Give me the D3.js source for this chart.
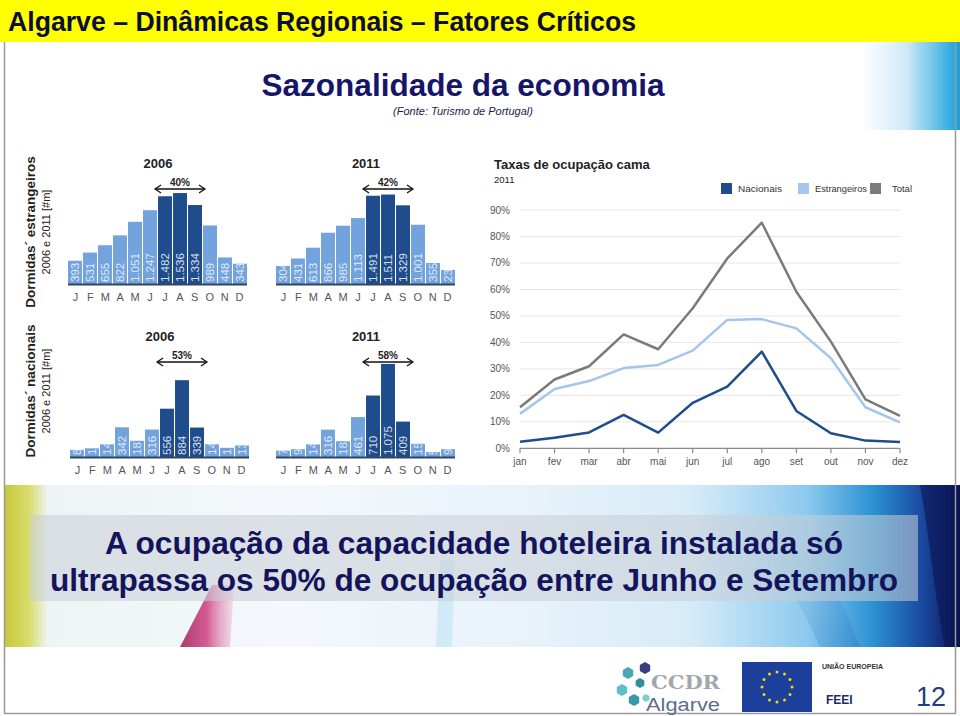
<!DOCTYPE html>
<html><head><meta charset="utf-8">
<script src="https://cdn.jsdelivr.net/npm/d3@7"></script>
<style>html,body{margin:0;padding:0;background:#fff}svg{display:block}</style>
</head><body>
<script>
// ---------------- DATA ----------------
const barMonths = ["J","F","M","A","M","J","J","A","S","O","N","D"];
const estr2006 = [393,531,655,822,1051,1247,1482,1536,1334,989,448,343];
const estr2011 = [304,431,613,866,985,1113,1491,1511,1329,1001,355,236];
const nac2006 = [82,100,146,342,187,316,556,884,339,147,106,133];
const nac2011 = [73,91,146,316,182,461,710,1075,409,153,58,90];
const peakShare = {estr2006:"40%", estr2011:"42%", nac2006:"53%", nac2011:"58%"};
const lineMonths = ["jan","fev","mar","abr","mai","jun","jul","ago","set","out","nov","dez"];
const taxaNacionais = [2.5,4,6,12.6,5.9,17.2,23.3,36.5,14.1,5.7,2.9,2.4];
const taxaEstrangeiros = [13,22.4,25.4,30.3,31.5,36.9,48.5,48.8,45.3,34,15.5,9.8];
const taxaTotal = [15.5,26,31,43,37.4,52.9,71.7,85.2,59.1,40.3,18.5,12.2];
const pctTicks = [0,10,20,30,40,50,60,70,80,90];
const legendNames = ["Nacionais","Estrangeiros","Total"];

// ---------------- SVG ----------------
const W=960,H=716;
const svg=d3.select("body").append("svg").attr("width",W).attr("height",H);
const defs=svg.append("defs");
const FONT="'Liberation Sans', Arial, sans-serif";

// gradients
const gTR=defs.append("linearGradient").attr("id","gTR").attr("x1",0).attr("x2",1).attr("y1",0).attr("y2",0);
gTR.append("stop").attr("offset","0").attr("stop-color","#ffffff");
gTR.append("stop").attr("offset","0.45").attr("stop-color","#cfe9f7");
gTR.append("stop").attr("offset","1").attr("stop-color","#14a0dc");

const gBand=defs.append("linearGradient").attr("id","gBand").attr("x1",0).attr("x2",1).attr("y1",0).attr("y2",0);
[["0","#c8c83a"],["0.025","#d8dc6a"],["0.045","#eef4f6"],["0.3","#f4f8fc"],["0.55","#e8f2fa"],["0.72","#d6ebf8"],["0.84","#8ccaee"],["0.91","#2a90d2"],["0.96","#1a4aa0"],["1","#0c1454"]]
  .forEach(s=>gBand.append("stop").attr("offset",s[0]).attr("stop-color",s[1]));
const gPink=defs.append("linearGradient").attr("id","gPink").attr("x1",0).attr("x2",1).attr("y1",0).attr("y2",0);
gPink.append("stop").attr("offset","0").attr("stop-color","#a02860").attr("stop-opacity",0.9);
gPink.append("stop").attr("offset","0.5").attr("stop-color","#d04080").attr("stop-opacity",0.85);
gPink.append("stop").attr("offset","1").attr("stop-color","#e8a0c0").attr("stop-opacity",0.3);
const gSwoosh=defs.append("linearGradient").attr("id","gSwoosh").attr("x1",0).attr("x2",1).attr("y1",0).attr("y2",1);
gSwoosh.append("stop").attr("offset","0").attr("stop-color","#ffffff").attr("stop-opacity",0.0);
gSwoosh.append("stop").attr("offset","1").attr("stop-color","#1c6fc0").attr("stop-opacity",0.7);

// header
svg.append("rect").attr("x",0).attr("y",0).attr("width",W).attr("height",42).attr("fill","#ffff00");
svg.append("text").attr("x",8).attr("y",31).attr("font-family",FONT).attr("font-weight","bold")
  .attr("font-size",27).attr("fill","#0d0d3a").attr("textLength",628).attr("lengthAdjust","spacingAndGlyphs")
  .text("Algarve – Dinâmicas Regionais – Fatores Críticos");

// top right gradient
svg.append("rect").attr("x",862).attr("y",42).attr("width",98).attr("height",88).attr("fill","url(#gTR)");

// title
svg.append("text").attr("x",463).attr("y",96).attr("text-anchor","middle").attr("font-family",FONT)
  .attr("font-weight","bold").attr("font-size",32).attr("fill","#15156a")
  .attr("textLength",403).attr("lengthAdjust","spacingAndGlyphs").text("Sazonalidade da economia");
svg.append("text").attr("x",463).attr("y",115).attr("text-anchor","middle").attr("font-family",FONT)
  .attr("font-style","italic").attr("font-size",11).attr("fill","#1a1a4a").text("(Fonte: Turismo de Portugal)");

// decorative band
svg.append("rect").attr("x",5).attr("y",485).attr("width",955).attr("height",162).attr("fill","url(#gBand)");
svg.append("path").attr("d","M920,485 C930,540 935,600 945,647 L960,647 L960,485 Z").attr("fill","#0c1454").attr("opacity",0.6);
svg.append("path").attr("d","M700,485 C760,530 800,600 820,647 L860,647 C840,590 800,530 760,485 Z").attr("fill","url(#gSwoosh)").attr("opacity",0.45);
svg.append("path").attr("d","M212,585 L234,585 L230,647 L180,647 Z").attr("fill","url(#gPink)");
svg.append("path").attr("d","M440,560 L455,560 L452,647 L436,647 Z").attr("fill","#bfe3f5").attr("opacity",0.6);

// text box
svg.append("rect").attr("x",30).attr("y",515).attr("width",888).attr("height",86).attr("fill","#c8ced6").attr("opacity",0.55);
svg.append("text").attr("x",474).attr("y",554).attr("text-anchor","middle").attr("font-family",FONT)
  .attr("font-weight","bold").attr("font-size",31).attr("fill","#14145c")
  .attr("textLength",738).attr("lengthAdjust","spacingAndGlyphs").text("A ocupação da capacidade hoteleira instalada só");
svg.append("text").attr("x",474).attr("y",591).attr("text-anchor","middle").attr("font-family",FONT)
  .attr("font-weight","bold").attr("font-size",31).attr("fill","#14145c")
  .attr("textLength",848).attr("lengthAdjust","spacingAndGlyphs").text("ultrapassa os 50% de ocupação entre Junho e Setembro");

// chart panel background
svg.append("rect").attr("x",8).attr("y",130).attr("width",934).attr("height",355).attr("fill","#ffffff");

// slide border
svg.append("path").attr("d","M4.5,42 L4.5,713.5 L955.5,713.5 L955.5,42").attr("fill","none").attr("stroke","#9a9a9a").attr("stroke-width",1.5);

// ---------------- BAR CHARTS ----------------
const LIGHT="#72a3dd", DARK="#1e4c8c";
let clipId=0;
function barChart(values, x0, x1, base, pxPerUnit, year, share, titleY, arrowY){
  const g=svg.append("g");
  const x=d3.scaleBand().domain(d3.range(12)).range([x0,x1]).paddingInner(0.07);
  const y=d3.scaleLinear().domain([0,1000]).range([base, base-1000*pxPerUnit]);
  values.forEach((v,i)=>{
    const bx=x(i), bw=x.bandwidth(), by=y(v), bh=base-by;
    const id="clip"+(clipId++);
    defs.append("clipPath").attr("id",id).append("rect").attr("x",bx).attr("y",by).attr("width",bw).attr("height",bh);
    g.append("rect").attr("x",bx).attr("y",by).attr("width",bw).attr("height",bh)
      .attr("fill",(i>=6&&i<=8)?DARK:LIGHT);
    const lbl=d3.format(",")(v).replace(/,/g,".");
    g.append("g").attr("clip-path",`url(#${id})`).append("text")
      .attr("transform",`translate(${bx+bw/2},${base-2}) rotate(-90)`)
      .attr("dy","0.35em").attr("font-family",FONT).attr("font-size",11.5)
      .attr("fill","#eef3fb").attr("fill-opacity",0.9).text(lbl);
  });
  g.append("line").attr("x1",x0).attr("x2",x1).attr("y1",base+0.5).attr("y2",base+0.5).attr("stroke","#33445e").attr("stroke-width",2);
  const xm=d3.scaleBand().domain(d3.range(12)).range([x0,x1]);
  barMonths.forEach((m,i)=>{
    g.append("text").attr("x",xm(i)+xm.bandwidth()/2).attr("y",base+17).attr("text-anchor","middle")
      .attr("font-family",FONT).attr("font-size",11).attr("fill","#555").text(m);
  });
  const ax0=x(6)-3, ax1=x(8)+x.bandwidth()+3, cx=(ax0+ax1)/2;
  g.append("text").attr("x",cx-22).attr("y",titleY).attr("text-anchor","middle").attr("font-family",FONT)
    .attr("font-weight","bold").attr("font-size",13).attr("fill","#222").text(year);
  g.append("line").attr("x1",ax0+1).attr("x2",ax1-1).attr("y1",arrowY).attr("y2",arrowY).attr("stroke","#111").attr("stroke-width",1.3);
  g.append("path").attr("d",`M${ax0+6},${arrowY-4} L${ax0},${arrowY} L${ax0+6},${arrowY+4}`).attr("fill","none").attr("stroke","#111").attr("stroke-width",1.3);
  g.append("path").attr("d",`M${ax1-6},${arrowY-4} L${ax1},${arrowY} L${ax1-6},${arrowY+4}`).attr("fill","none").attr("stroke","#111").attr("stroke-width",1.3);
  g.append("text").attr("x",cx).attr("y",arrowY-3).attr("text-anchor","middle").attr("font-family",FONT)
    .attr("font-weight","bold").attr("font-size",10).attr("fill","#222").text(share);
}
barChart(estr2006, 68, 247, 284, 0.0592, "2006", peakShare.estr2006, 168, 189);
barChart(estr2011, 276, 455, 284, 0.0592, "2011", peakShare.estr2011, 168, 189);
barChart(nac2006, 70, 249, 457, 0.0869, "2006", peakShare.nac2006, 341, 362);
barChart(nac2011, 276, 455, 457, 0.0866, "2011", peakShare.nac2011, 341, 362);

function yLabel(cy, main){
  svg.append("text").attr("transform",`translate(35,${cy}) rotate(-90)`).attr("text-anchor","middle")
    .attr("font-family",FONT).attr("font-weight","bold").attr("font-size",13.5).attr("fill","#222").text(main);
  svg.append("text").attr("transform",`translate(50,${cy}) rotate(-90)`).attr("text-anchor","middle")
    .attr("font-family",FONT).attr("font-size",11).attr("fill","#222").text("2006 e 2011 [#m]");
}
yLabel(232,"Dormidas´ estrangeiros");
yLabel(391,"Dormidas´ nacionais");

// ---------------- LINE CHART ----------------
const lc=svg.append("g");
const lx=d3.scalePoint().domain(lineMonths).range([520,900]);
const ly=d3.scaleLinear().domain([0,90]).range([448.3,210]);
lc.append("text").attr("x",494).attr("y",169).attr("font-family",FONT).attr("font-weight","bold").attr("font-size",13).attr("fill","#222").text("Taxas de ocupação cama");
lc.append("text").attr("x",494).attr("y",183).attr("font-family",FONT).attr("font-size",9.5).attr("fill","#222").text("2011");
pctTicks.forEach(t=>{
  if(t>0) lc.append("line").attr("x1",520).attr("x2",900).attr("y1",ly(t)).attr("y2",ly(t)).attr("stroke","#e6e6e6").attr("stroke-width",1);
  lc.append("text").attr("x",510).attr("y",ly(t)).attr("dy","0.35em").attr("text-anchor","end")
    .attr("font-family",FONT).attr("font-size",10).attr("fill","#555").text(t+"%");
});
lc.append("line").attr("x1",520).attr("x2",900).attr("y1",ly(0)).attr("y2",ly(0)).attr("stroke","#8a8a8a").attr("stroke-width",1.2);
lineMonths.forEach(m=>{
  lc.append("line").attr("x1",lx(m)).attr("x2",lx(m)).attr("y1",ly(0)).attr("y2",ly(0)+5).attr("stroke","#8a8a8a").attr("stroke-width",1.2);
  lc.append("text").attr("x",lx(m)).attr("y",465).attr("text-anchor","middle").attr("font-family",FONT)
    .attr("font-size",10).attr("fill","#555").text(m);
});
const seriesCol=["#1e4c8c","#a6c5ea","#7a7a7a"];
const seriesData=[taxaNacionais,taxaEstrangeiros,taxaTotal];
const line=d3.line().x((d,i)=>lx(lineMonths[i])).y(d=>ly(d));
[2,1,0].forEach(k=>{
  lc.append("path").attr("d",line(seriesData[k])).attr("fill","none").attr("stroke",seriesCol[k]).attr("stroke-width",2.5).attr("stroke-linejoin","round");
});
const legX=[721,798,870];
const legTxtW=[44,52,20];
legendNames.forEach((n,k)=>{
  lc.append("rect").attr("x",legX[k]).attr("y",183).attr("width",11).attr("height",11).attr("fill",seriesCol[k]);
  lc.append("text").attr("x",legX[k]+(k==2?22:17)).attr("y",188.5).attr("dy","0.35em").attr("font-family",FONT)
    .attr("font-size",9.5).attr("fill","#333").attr("textLength",legTxtW[k]).attr("lengthAdjust","spacingAndGlyphs").text(n);
});

// ---------------- FOOTER ----------------
const hex=(cx,cy,r)=>d3.range(6).map(i=>{const a=Math.PI/3*i+Math.PI/6;return [cx+r*Math.cos(a),cy+r*Math.sin(a)];});
[[645,668,6,"#3c3c80"],[628,673,6,"#4aa8b4"],[640,683,5,"#2f8f9c"],[622,690,6,"#5cc0c4"],[634,700,6,"#3a98a8"],[646,698,4,"#7ccfd0"]]
 .forEach(h=>svg.append("polygon").attr("points",hex(h[0],h[1],h[2]).join(" ")).attr("fill",h[3]));
svg.append("text").attr("x",651).attr("y",689).attr("font-family","'DejaVu Serif', serif").attr("font-weight","bold")
  .attr("font-size",19).attr("fill","#a4a6ae").attr("textLength",69).attr("lengthAdjust","spacingAndGlyphs").text("CCDR");
svg.append("text").attr("x",646).attr("y",711).attr("font-family",FONT).attr("font-size",18).attr("fill","#5c6e8e")
  .attr("textLength",74).attr("lengthAdjust","spacingAndGlyphs").text("Algarve");
svg.append("rect").attr("x",742).attr("y",662).attr("width",70).attr("height",50).attr("fill","#1c3f9c");
d3.range(12).forEach(i=>{const a=Math.PI*2*i/12;
  svg.append("circle").attr("cx",777+15*Math.cos(a)).attr("cy",687+15*Math.sin(a)).attr("r",1.5).attr("fill","#f5d800");});
svg.append("text").attr("x",822).attr("y",669).attr("font-family",FONT).attr("font-weight","bold").attr("font-size",7).attr("fill","#333").text("UNIÃO EUROPEIA");
svg.append("text").attr("x",826).attr("y",704).attr("font-family",FONT).attr("font-weight","bold").attr("font-size",12).attr("fill","#1a2a6a").text("FEEI");
svg.append("text").attr("x",946).attr("y",706).attr("text-anchor","end").attr("font-family",FONT).attr("font-size",27).attr("fill","#1f3f80").text("12");
</script>
</body></html>
